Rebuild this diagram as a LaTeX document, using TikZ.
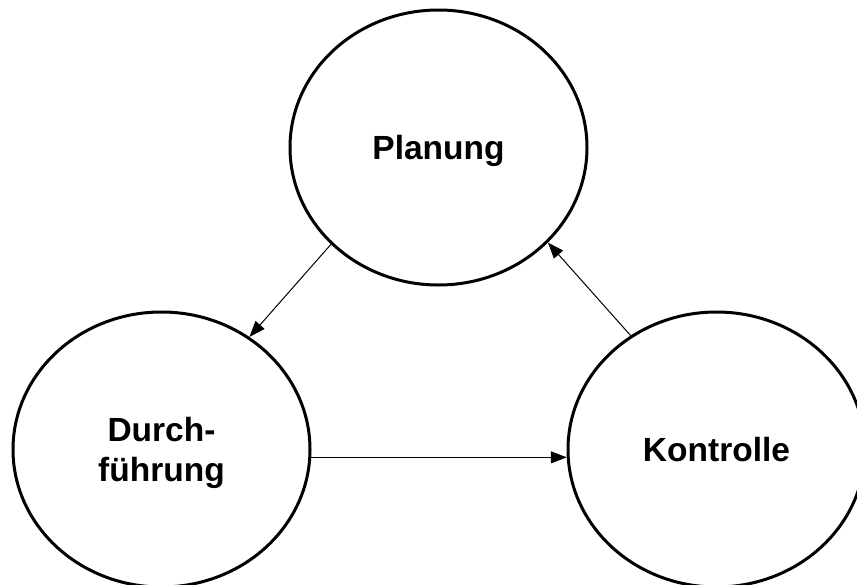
\documentclass[tikz,border=0pt]{standalone}
\usepackage{fontspec}
\setmainfont{Liberation Sans}
\usetikzlibrary{shapes.geometric,arrows.meta}
\begin{document}
\begin{tikzpicture}[x=1pt,y=-1pt,
  phase/.style={draw=black,line width=3pt,ellipse,minimum width=297pt,minimum height=275pt,inner sep=0pt,
    font=\fontsize{33.5}{40}\selectfont\bfseries,align=center,text depth=0pt},
  flow/.style={line width=1pt,-{Triangle[length=16pt,width=12pt]}}]
\useasboundingbox (0,0) rectangle (857,584);
\node[phase] (P) at (438.5,147.5) {Planung};
\node[phase] (D) at (161.5,449.5) {Durch-\\führung};
\node[phase] (K) at (716.5,449.5) {Kontrolle};
\draw[flow] (P.222.8) -- (D.52.2);
\draw[flow] (D.-3.3) -- (K.183.3);
\draw[flow] (K.127.1) -- (P.-41.4);
\end{tikzpicture}
\end{document}
